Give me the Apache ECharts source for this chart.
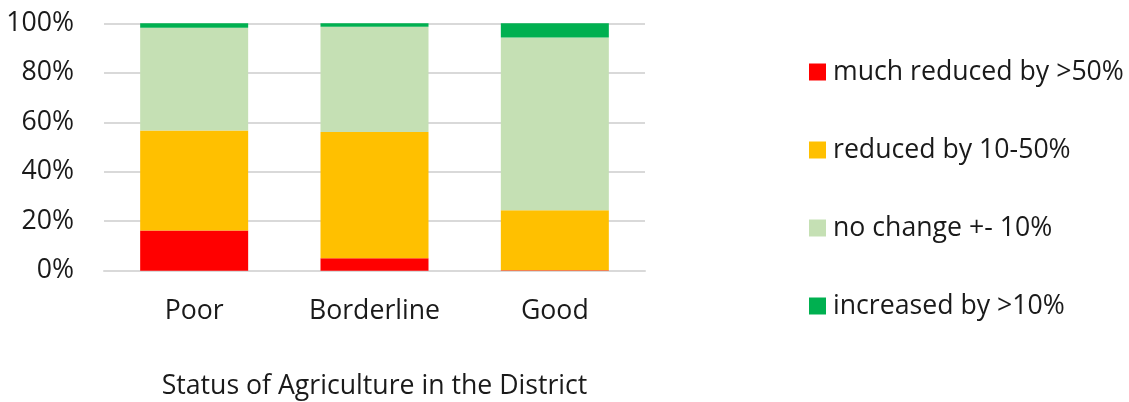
<!DOCTYPE html>
<html><head><meta charset="utf-8">
<script src="https://cdn.jsdelivr.net/npm/echarts@6/dist/echarts.min.js"></script>
<style>html,body{margin:0;padding:0;background:#fff}#c{width:1129px;height:402px}</style>
</head><body><div id="c"></div>
<script>
const categories = ['Poor', 'Borderline', 'Good'];
const seriesNames = ['much reduced by >50%', 'reduced by 10-50%', 'no change +- 10%', 'increased by >10%'];
const muchReduced = [16.2, 5.0, 0.2];
const reduced = [40.5, 51.1, 24.2];
const noChange = [41.5, 42.5, 69.9];
const increased = [1.8, 1.4, 5.7];
const yTicks = [0, 20, 40, 60, 80, 100];
const colors = ['#FF0000', '#FFC000', '#C5E0B4', '#00B050'];
const values = [muchReduced, reduced, noChange, increased];
const txt = '#1a1a1a';
const font = 'Open Sans';
const fs = 26.67;
const chart = echarts.init(document.getElementById('c'));
chart.setOption({
  animation: false,
  textStyle: { fontFamily: font },
  grid: { left: 104, right: 484, top: 23.3, bottom: 131.3, containLabel: false, outerBoundsMode: 'none' },
  legend: {
    orient: 'vertical', left: 809, top: 58.5, padding: 0,
    itemWidth: 17, itemHeight: 17, itemGap: 51,
    icon: 'rect',
    textStyle: { fontFamily: font, fontSize: fs, color: txt, lineHeight: 26, padding: [0,0,0,2] },
    data: seriesNames
  },
  xAxis: {
    type: 'category', data: categories,
    name: 'Status of Agriculture in the District',
    nameLocation: 'middle', nameGap: 102,
    nameTextStyle: { fontFamily: font, fontSize: fs, color: txt },
    axisLine: { lineStyle: { color: '#d9d9d9', width: 2 } },
    axisTick: { show: false },
    axisLabel: { fontFamily: font, fontSize: fs, color: txt, margin: 27 }
  },
  yAxis: {
    type: 'value', min: 0, max: 100, interval: 20,
    axisLabel: { fontFamily: font, fontSize: fs, color: txt, margin: 30,
      formatter: v => yTicks.includes(v) ? v + '%' : '' },
    splitLine: { lineStyle: { color: '#d9d9d9', width: 2 } },
    axisLine: { show: false }, axisTick: { show: false }
  },
  series: seriesNames.map((n, i) => ({
    name: n, type: 'bar', stack: 'total', data: values[i],
    barWidth: 108,
    itemStyle: { color: colors[i] }
  }))
});
</script></body></html>
